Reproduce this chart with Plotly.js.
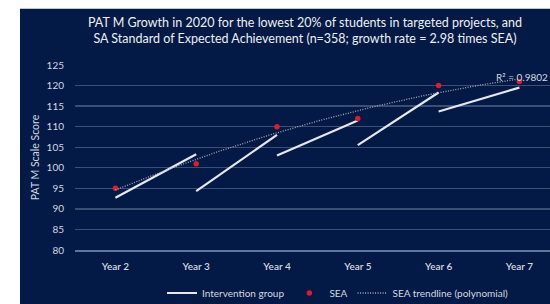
<!DOCTYPE html>
<html>
<head>
<meta charset="utf-8">
<script src="https://cdn.plot.ly/plotly-3.0.1.min.js"></script>
<style>html,body{margin:0;padding:0;background:#fff;}#chart{width:550px;height:304px;}</style>
</head>
<body>
<div id="chart"></div>
<script>
// ---- data ----
var categories = ["Year 2", "Year 3", "Year 4", "Year 5", "Year 6", "Year 7"];
var seaValues = [95, 101, 110, 112, 120, 121];
// each intervention segment runs from one year (start) to the next (end)
var interventionStart = [92.7, 94.3, 103.0, 105.5, 113.7];
var interventionEnd = [103.3, 108.0, 111.5, 118.3, 119.5];
var yTicks = [80, 85, 90, 95, 100, 105, 110, 115, 120, 125];

// ---- build traces ----
var idx = categories.map(function (c, i) { return i; });

var segX = [], segY = [];
for (var i = 0; i < interventionStart.length; i++) {
  segX.push(i, i + 1, null);
  segY.push(interventionStart[i], interventionEnd[i], null);
}

// quadratic least-squares fit of SEA (as a spreadsheet polynomial trendline does)
function polyFit2(xs, ys) {
  var n = xs.length, s = [0, 0, 0, 0, 0], t = [0, 0, 0];
  for (var k = 0; k < n; k++) {
    var x = xs[k] + 1, y = ys[k];
    for (var p = 0; p < 5; p++) s[p] += Math.pow(x, p);
    for (var q = 0; q < 3; q++) t[q] += y * Math.pow(x, q);
  }
  var M = [[s[0], s[1], s[2], t[0]], [s[1], s[2], s[3], t[1]], [s[2], s[3], s[4], t[2]]];
  for (var c = 0; c < 3; c++) {
    for (var r = c + 1; r < 3; r++) {
      var f = M[r][c] / M[c][c];
      for (var j = c; j < 4; j++) M[r][j] -= f * M[c][j];
    }
  }
  var coef = [0, 0, 0];
  for (var r2 = 2; r2 >= 0; r2--) {
    var sum = M[r2][3];
    for (var j2 = r2 + 1; j2 < 3; j2++) sum -= M[r2][j2] * coef[j2];
    coef[r2] = sum / M[r2][r2];
  }
  return coef;
}
var coef = polyFit2(idx, seaValues);
var mean = seaValues.reduce(function (a, b) { return a + b; }, 0) / seaValues.length;
var ssRes = 0, ssTot = 0;
idx.forEach(function (x, k) {
  var xx = x + 1, fit = coef[0] + coef[1] * xx + coef[2] * xx * xx;
  ssRes += Math.pow(seaValues[k] - fit, 2);
  ssTot += Math.pow(seaValues[k] - mean, 2);
});
var r2 = 1 - ssRes / ssTot;
var trendX = [], trendY = [];
for (var s2 = 0; s2 <= 100; s2++) {
  var xv = 5 * s2 / 100, xx2 = xv + 1;
  trendX.push(xv);
  trendY.push(coef[0] + coef[1] * xx2 + coef[2] * xx2 * xx2);
}

var font = "Lato, 'Open Sans', sans-serif";
var navy = "#021a45";

var traces = [
  {
    x: segX, y: segY, type: "scatter", mode: "lines",
    name: "Intervention group", connectgaps: false,
    line: {color: "#e6e8ec", width: 2.2},
    hoverinfo: "skip"
  },
  {
    x: idx, y: seaValues, type: "scatter", mode: "markers",
    name: "SEA",
    marker: {color: "#e01b2b", size: 5.5}
  },
  {
    x: trendX, y: trendY, type: "scatter", mode: "lines",
    name: "SEA trendline (polynomial)",
    line: {color: "#a4afc2", width: 1.3, dash: "1px,1.5px"},
    hoverinfo: "skip"
  }
];

// plot area: 75..550 px horizontally, 64.5..250 px vertically
var plotL = 75, plotR = 550, plotT = 64.5, plotB = 250;
var W = 550, H = 304;
var pw = plotR - plotL, ph = plotB - plotT;
var xMax = -0.5 + pw / 80.8;

var layout = {
  width: W, height: H,
  margin: {l: plotL, r: W - plotR, t: plotT, b: H - plotB, pad: 0},
  paper_bgcolor: "#ffffff",
  plot_bgcolor: "rgba(0,0,0,0)",
  font: {family: font, color: "#d4d8e0", size: 10},
  title: {
    text: "PAT M Growth in 2020 for the lowest 20% of students in targeted projects, and<br>SA Standard of Expected Achievement (n=358; growth rate = 2.98 times SEA)",
    font: {family: font, size: 12.5, color: "#eef0f4"},
    x: 305 / W, xanchor: "center", xref: "container",
    y: 1 - 27 / H, yanchor: "middle", yref: "container"
  },
  shapes: [{
    type: "rect", layer: "below", xref: "paper", yref: "paper",
    x0: (20 - plotL) / pw, x1: 1.05,
    y0: (plotB - (H + 5)) / ph, y1: (plotB - 8) / ph,
    fillcolor: navy, line: {width: 0}
  }],
  xaxis: {
    range: [-0.5, xMax],
    tickmode: "array", tickvals: idx, ticktext: categories,
    showgrid: false, zeroline: false,
    showline: true, linecolor: "#60759a", linewidth: 1.6,
    ticks: "", tickfont: {family: font, size: 10, color: "#d4d8e0", weight: 600},
    ticklabelstandoff: 6,
    fixedrange: true
  },
  yaxis: {
    range: [80, 125],
    tickmode: "array", tickvals: yTicks,
    showgrid: true, gridcolor: "#3a4f74", gridwidth: 1.4,
    zeroline: false, showline: false, ticks: "",
    tickfont: {family: font, size: 10, color: "#d4d8e0"},
    ticklabelstandoff: 10,
    title: {text: "PAT M Scale Score", font: {family: font, size: 10.5, color: "#d4d8e0"}, standoff: 4},
    fixedrange: true
  },
  legend: {
    orientation: "h", x: 338 / W, xref: "container", xanchor: "center",
    y: 11 / H, yref: "container", yanchor: "middle",
    font: {family: font, size: 10, color: "#d4d8e0"},
    bgcolor: "rgba(0,0,0,0)", itemwidth: 30, tracegroupgap: 0
  },
  annotations: [{
    xref: "x", yref: "y", x: 4.686, y: 122.2,
    text: "R² = " + r2.toFixed(4), showarrow: false,
    xanchor: "left", yanchor: "middle",
    font: {family: font, size: 10, color: "#d4d8e0"}
  }],
  showlegend: true
};

Plotly.newPlot("chart", traces, layout, {displayModeBar: false, staticPlot: true});
</script>
</body>
</html>
